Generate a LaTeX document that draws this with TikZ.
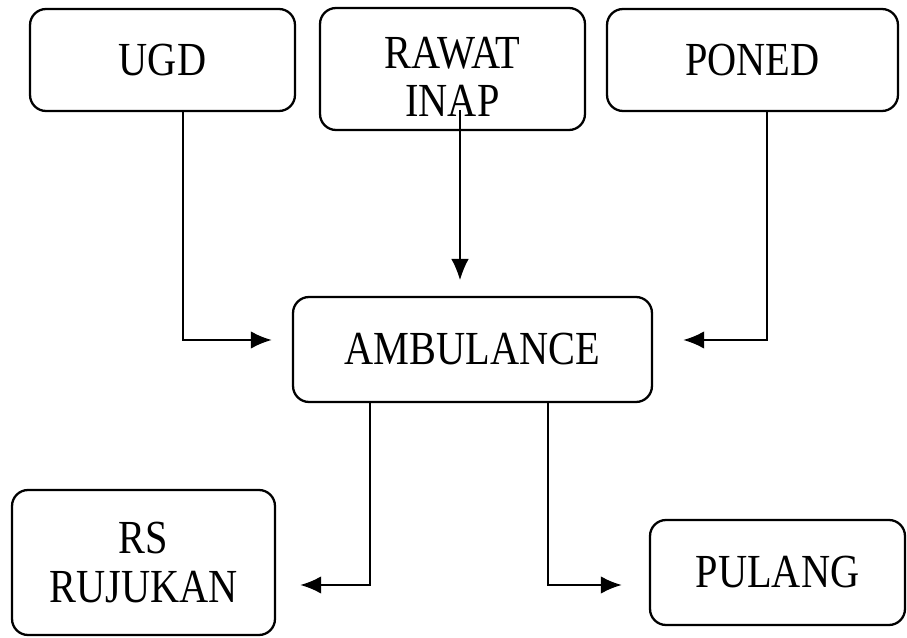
\documentclass[tikz,border=0pt]{standalone}
\usepackage{fontspec}
\setmainfont{Liberation Serif}[FakeStretch=0.85]
\usetikzlibrary{arrows.meta}

\tikzset{
  unit/.style={draw, rounded corners=0.32cm, line width=1.3pt, align=center,
    font=\fontsize{27}{27.5}\selectfont, inner sep=0pt},
  flow/.style={line width=1.6pt, -{Latex[length=12pt,width=10pt]}},
  thinflow/.style={line width=0.7pt, -{Latex[length=12pt,width=10pt]}}
}

\begin{document}
\begin{tikzpicture}[x=0.02cm, y=-0.02cm]
    \useasboundingbox (0,0) rectangle (907,638);

    % top row
    \node[unit, minimum width=5.3cm, minimum height=2.04cm] (ugd) at (162.5,60) {UGD};
    \node[unit, minimum width=5.3cm, minimum height=2.44cm] (rawat) at (452.5,69) {\rule{0pt}{27pt}RAWAT\\INAP};
    \node[unit, minimum width=5.82cm, minimum height=2.04cm] (poned) at (752.5,60) {PONED};

    % middle
    \node[unit, minimum width=7.18cm, minimum height=2.1cm] (amb) at (472.5,349.5) {AMBULANCE};

    % bottom row
    \node[unit, minimum width=5.26cm, minimum height=2.9cm] (rs) at (143.5,562.5) {RS\\RUJUKAN};
    \node[unit, minimum width=5.1cm, minimum height=2.1cm] (pulang) at (777.5,572.5) {PULANG};

    % bends and tips
    \coordinate (ugdbend) at (183,340);
    \coordinate (ugdtip) at (272,340);
    \coordinate (rawatfrom) at (460,110);
    \coordinate (rawattip) at (460,280);
    \coordinate (ponedbend) at (767,340);
    \coordinate (ponedtip) at (683,340);
    \coordinate (rsbend) at (370,585);
    \coordinate (rstip) at (300,585);
    \coordinate (plgbend) at (548,585);
    \coordinate (plgtip) at (622,585);

    \draw[flow] (ugd.south -| ugdbend) -- (ugdbend) -- (ugdtip);
    \draw[thinflow] (rawatfrom) -- (rawattip);
    \draw[flow] (poned.south -| ponedbend) -- (ponedbend) -- (ponedtip);
    \draw[flow] (amb.south -| rsbend) -- (rsbend) -- (rstip);
    \draw[flow] (amb.south -| plgbend) -- (plgbend) -- (plgtip);
\end{tikzpicture}
\end{document}
